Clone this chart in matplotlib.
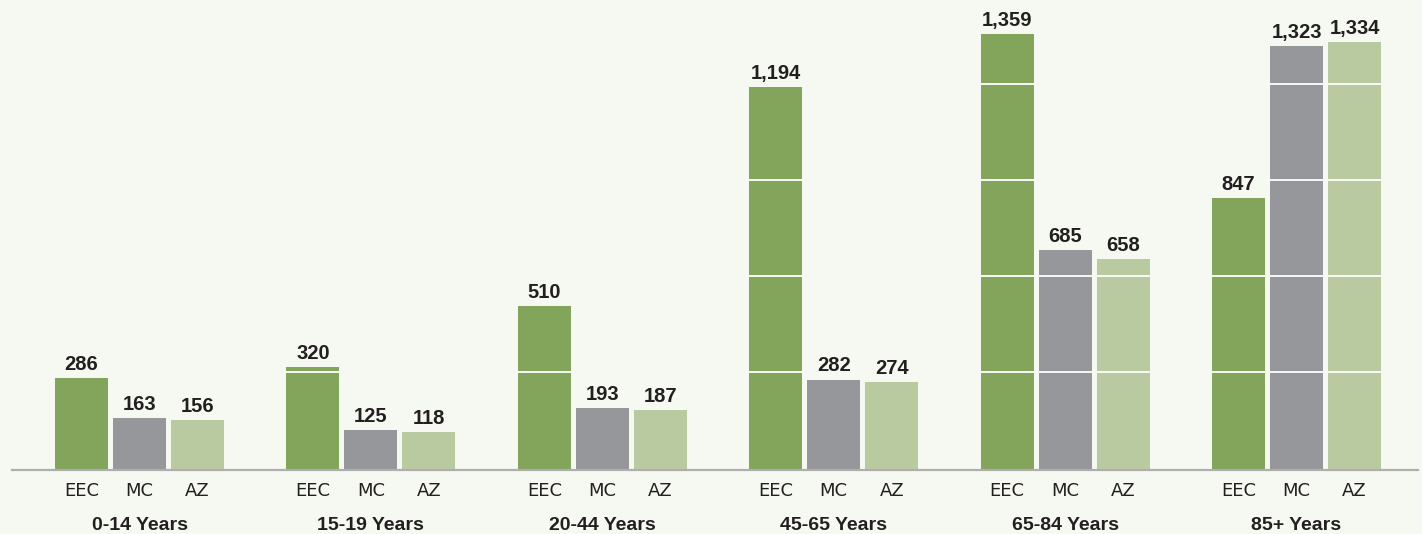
import numpy as np
import matplotlib.pyplot as plt
from matplotlib import transforms

# data
groups = ['0-14 Years', '15-19 Years', '20-44 Years', '45-65 Years', '65-84 Years', '85+ Years']
series = ['EEC', 'MC', 'AZ']
eec = [286, 320, 510, 1194, 1359, 847]
mc = [163, 125, 193, 282, 685, 1323]
az = [156, 118, 187, 274, 658, 1334]

COLORS = ['#82a55b', '#96979b', '#bacaa0']
BG = '#f6f9f2'
TXT = '#231f20'
GUIDES = np.arange(300, 1400, 300) + 5   # white lines that cut across the bars

fig = plt.figure(figsize=(14.22, 5.34), dpi=100, facecolor=BG)
ax = fig.add_axes([12 / 1422, 64 / 534, 1406 / 1422, 449 / 534])
ax.set_facecolor(BG)

x = np.arange(len(groups))
width = 0.229
step = 0.2507

tick_pos, tick_lab = [], []
for i, (name, vals) in enumerate(zip(series, [eec, mc, az])):
    pos = x + (i - 1) * step
    bars = ax.bar(pos, vals, width, color=COLORS[i], zorder=2)
    for b, v in zip(bars, vals):
        x0, x1 = b.get_x(), b.get_x() + b.get_width()
        lv = GUIDES[GUIDES < v - 4]
        if len(lv):
            ax.hlines(lv, x0, x1, color='white', lw=1.3, zorder=3)
        ax.annotate(f'{v:,}', ((x0 + x1) / 2, v),
                    xytext=(0, 3), textcoords='offset points',
                    ha='center', va='bottom', fontsize=14.5, fontweight='bold',
                    family=['Liberation Sans', 'DejaVu Sans'], color=TXT)
    tick_pos.extend(pos)
    tick_lab.extend([name] * len(pos))

ax.axhline(0, color='#aeaeae', lw=1.6, zorder=4, clip_on=False)

ax.set_xlim(-0.551, 5.525)
ax.set_ylim(0, 1400)
ax.set_yticks([])
ax.set_xticks(tick_pos)
ax.set_xticklabels(tick_lab, fontsize=13, color=TXT,
                   family=['Liberation Sans Narrow', 'DejaVu Sans'])
ax.tick_params(axis='x', length=0, pad=9)
for s in ax.spines.values():
    s.set_visible(False)

trans = transforms.blended_transform_factory(ax.transData, ax.transAxes)
for xi, g in zip(x, groups):
    ax.text(xi, -0.123, g, transform=trans, ha='center', va='center',
            fontsize=14, fontweight='bold', color=TXT,
            family=['Liberation Sans', 'DejaVu Sans'])

fig.savefig('out.png', dpi=100, facecolor=BG)
